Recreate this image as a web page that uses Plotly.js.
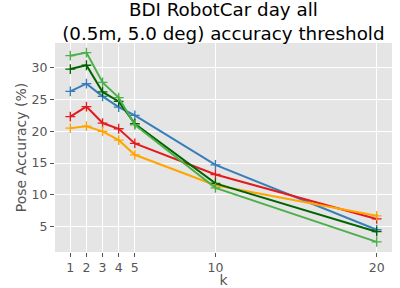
<!DOCTYPE html>
<html>
<head>
<meta charset="utf-8">
<script src="https://cdn.plot.ly/plotly-3.0.1.min.js"></script>
<style>html,body{margin:0;padding:0;background:#fff;}#chart{width:400px;height:288px;}</style>
</head>
<body>
<div id="chart"></div>
<script>
const k = [1, 2, 3, 4, 5, 10, 20];
const tickLabels = ["1", "2", "3", "4", "5", "10", "20"];
const blueVals = [26.3, 27.5, 25.5, 23.8, 22.5, 14.7, 4.5];
const redVals = [22.3, 23.9, 21.3, 20.4, 18.1, 13.2, 6.2];
const orangeVals = [20.5, 20.8, 20.0, 18.6, 16.3, 11.5, 6.7];
const darkGreenVals = [29.8, 30.4, 26.2, 24.7, 21.2, 11.8, 4.2];
const lightGreenVals = [31.9, 32.4, 27.7, 25.3, 21.0, 11.1, 2.6];

function tr(y, color) {
  return {
    x: k, y: y, type: 'scatter', mode: 'lines+markers',
    line: {color: color, width: 2},
    marker: {symbol: 'cross-thin-open', size: 7, line: {color: color, width: 1.3}},
    showlegend: false, hoverinfo: 'skip'
  };
}
const data = [
  tr(blueVals, '#377eb8'),
  tr(redVals, '#e41a1c'),
  tr(orangeVals, '#ffa500'),
  tr(darkGreenVals, '#006400'),
  tr(lightGreenVals, '#4daf4a')
];
const font = {family: 'DejaVu Sans, sans-serif', size: 13, color: '#555555'};
const layout = {
  width: 400, height: 288,
  margin: {l: 55, r: 8, t: 43, b: 36},
  paper_bgcolor: '#ffffff', plot_bgcolor: '#e5e5e5',
  font: font,
  title: {
    text: 'BDI RobotCar day all<br>(0.5m, 5.0 deg) accuracy threshold',
    font: {family: 'DejaVu Sans, sans-serif', size: 18.3, color: '#000000'},
    x: 0.5585, xanchor: 'center', xref: 'container',
    y: 0.945, yref: 'container', yanchor: 'top'
  },
  xaxis: {
    range: [0.05, 20.95], tickvals: k, ticktext: tickLabels,
    showgrid: true, gridcolor: '#ffffff', gridwidth: 1, zeroline: false,
    ticks: 'outside', ticklen: 4, tickcolor: '#555555', tickwidth: 1,
    tickfont: {family: 'DejaVu Sans, sans-serif', size: 12.5, color: '#555555'},
    title: {text: 'k', font: {family: 'DejaVu Sans, sans-serif', size: 14, color: '#555555'}, standoff: 9},
    showline: false
  },
  yaxis: {
    range: [1.0, 33.9], tickvals: [5, 10, 15, 20, 25, 30],
    showgrid: true, gridcolor: '#ffffff', gridwidth: 1, zeroline: false,
    ticks: 'outside', ticklen: 4, tickcolor: '#555555', tickwidth: 1,
    tickfont: {family: 'DejaVu Sans, sans-serif', size: 12.5, color: '#555555'},
    title: {text: 'Pose Accuracy (%)', font: {family: 'DejaVu Sans, sans-serif', size: 14, color: '#555555'}, standoff: 1},
    showline: false
  }
};
Plotly.newPlot('chart', data, layout, {staticPlot: true, displayModeBar: false});
</script>
</body>
</html>
